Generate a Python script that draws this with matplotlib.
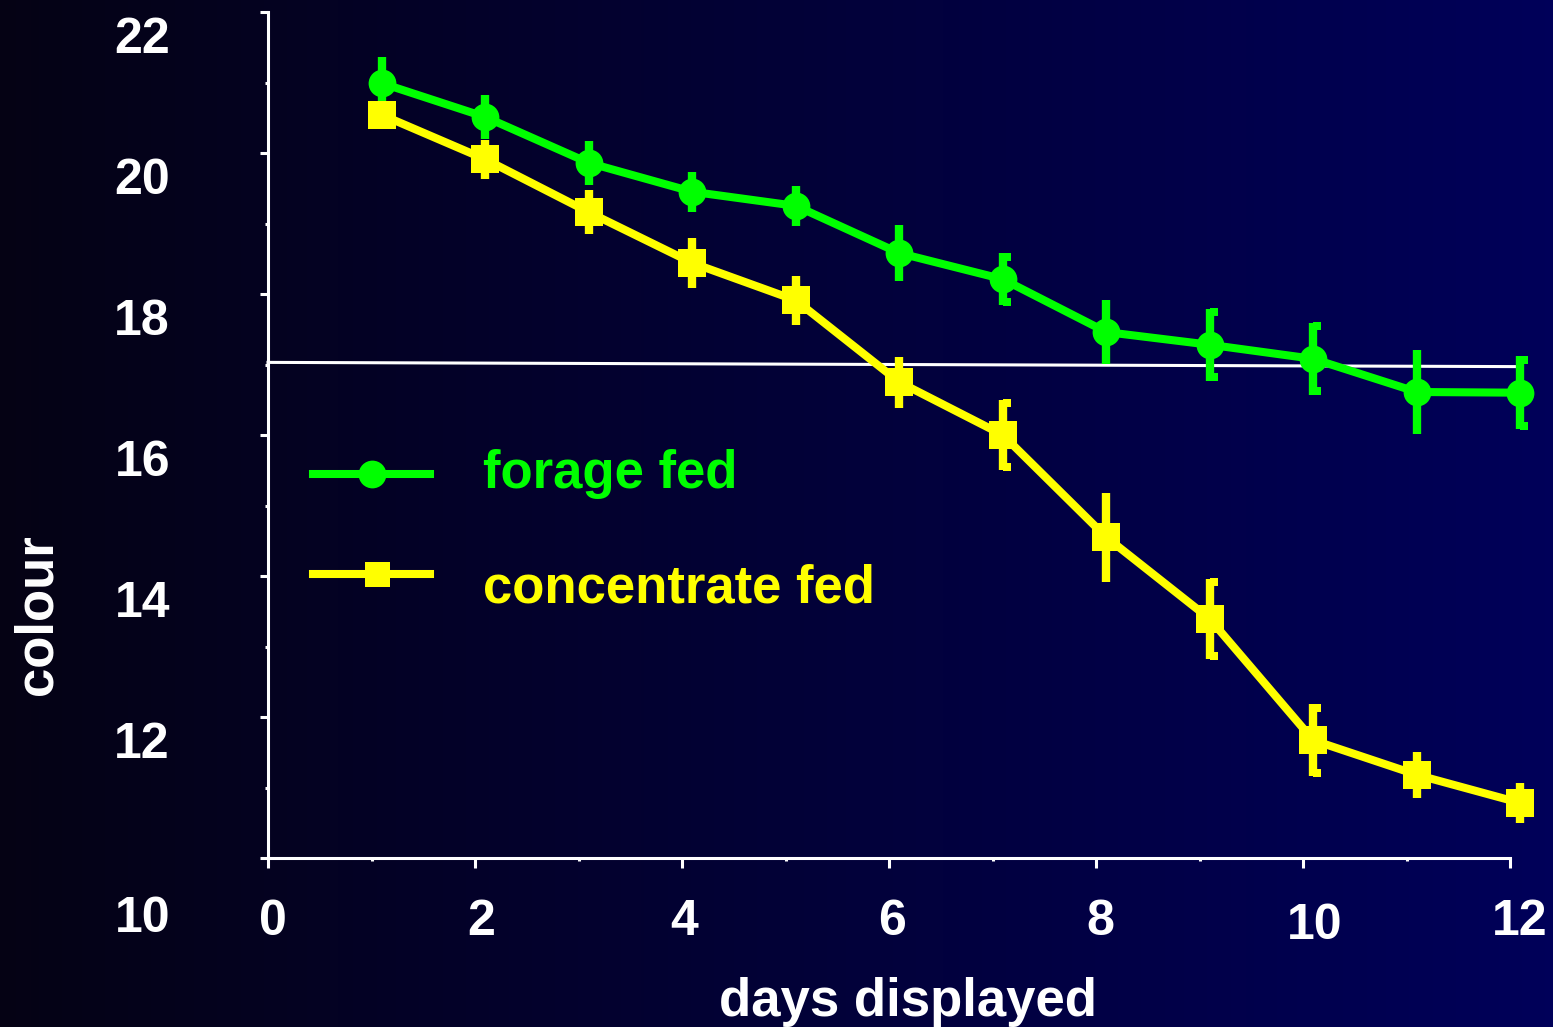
import numpy as np
import matplotlib
matplotlib.use("Agg")
import matplotlib.pyplot as plt
from matplotlib.path import Path
from matplotlib.transforms import ScaledTranslation

plt.rcParams['font.family'] = ['Liberation Sans', 'DejaVu Sans']
plt.rcParams['font.weight'] = 'bold'

# data
days = np.arange(1, 13)
forage = [20.99, 20.51, 19.86, 19.45, 19.25, 18.58, 18.21, 17.46, 17.28, 17.08, 16.61, 16.60]
forage_err = [0.37, 0.31, 0.31, 0.28, 0.28, 0.40, 0.37, 0.45, 0.51, 0.51, 0.60, 0.52]
concentrate = [20.54, 19.91, 19.16, 18.44, 17.91, 16.75, 16.00, 14.55, 13.39, 11.67, 11.18, 10.78]
concentrate_err = [0.20, 0.28, 0.31, 0.35, 0.35, 0.36, 0.50, 0.63, 0.57, 0.51, 0.33, 0.28]
ref_line_x = [0, 12.08]
ref_line_y = [17.03, 16.97]
x_ticks = [0, 2, 4, 6, 8, 10, 12]
y_ticks = [10, 12, 14, 16, 18, 20, 22]

GREEN = '#00ff00'
YELLOW = '#ffff00'
X_SHIFT = 0.1  # points sit a little right of the day ticks

fig = plt.figure(figsize=(15.53, 10.27), dpi=100)

# background: black on the left fading to navy on the right
bg = fig.add_axes([0, 0, 1, 1])
t = np.linspace(0, 1, 400)
left = np.array([0.02, 0.01, 0.08])
right = np.array([0.0, 0.0, 0.35])
grad = (left[None, :] * (1 - t[:, None]) + right[None, :] * t[:, None])[None, :, :]
bg.imshow(grad, aspect='auto', extent=[0, 1, 0, 1])
bg.axis('off')

ax = fig.add_axes([268 / 1553, 169 / 1027, 1242 / 1553, 846 / 1027])
ax.set_facecolor('none')
ax.set_xlim(0, 12)
ax.set_ylim(10, 22)

for side in ['top', 'right']:
    ax.spines[side].set_visible(False)
for side in ['left', 'bottom']:
    ax.spines[side].set_color('white')
    ax.spines[side].set_linewidth(2.2)

ax.set_xticks(x_ticks)
ax.set_xticks(days[::2], minor=True)
ax.set_xticklabels([])
ax.set_yticks(y_ticks)
ax.set_yticks([11, 13, 15, 17, 19, 21], minor=True)
ax.set_yticklabels([])
ax.tick_params(axis='both', which='both', color='white', width=2.2, direction='out')
ax.tick_params(axis='x', which='major', length=7.5)
ax.tick_params(axis='x', which='minor', length=2.5)
ax.tick_params(axis='y', which='major', length=6)
ax.tick_params(axis='y', which='minor', length=2.5)

# tick labels placed by hand, the original has them slightly off their ticks
for v in y_ticks:
    drop = 61 if v == 10 else 28
    off = ScaledTranslation(0, -drop / 100, fig.dpi_scale_trans)
    ax.text(-0.079, v, str(v), ha='right', va='center', fontsize=36, color='white',
            fontweight='bold', transform=ax.get_yaxis_transform() + off)

x_nudge = [5, 6, 2, 3, 4, 12, 10]
for v, dx in zip(x_ticks, x_nudge):
    drop = 68 if v == 10 else 64
    off = ScaledTranslation(dx / 100, -drop / 100, fig.dpi_scale_trans)
    ax.text(v, 0, str(v), ha='center', va='center', fontsize=36, color='white',
            fontweight='bold', transform=ax.get_xaxis_transform() + off)

# reference line
ax.plot(ref_line_x, ref_line_y, color='white', lw=2.2, clip_on=False, zorder=2)

xs = days + X_SHIFT
# little one-sided cap: a block sticking out to the right of the bar end
half_cap = Path([(0, -0.5), (1, -0.5), (1, 0.5), (0, 0.5), (0, -0.5)],
                [Path.MOVETO, Path.LINETO, Path.LINETO, Path.LINETO, Path.CLOSEPOLY])


def draw_series(y, err, color, marker, caps):
    y = np.array(y)
    err = np.array(err)
    ax.errorbar(xs, y, yerr=err, color=color, marker=marker, ms=20, mew=0,
                lw=5.8, elinewidth=6, capsize=0, clip_on=False, zorder=3)
    idx = np.array(caps) - 1
    for sign in (1, -1):
        ax.plot(xs[idx], y[idx] + sign * (err[idx] - 0.05), ls='none', marker=half_cap,
                ms=12, mew=0, color=color, clip_on=False, zorder=3)


draw_series(forage, forage_err, GREEN, 'o', [7, 9, 10, 12])
draw_series(concentrate, concentrate_err, YELLOW, 's', [7, 9, 10])

# legend drawn by hand
leg_x = [0.0362, 0.1304]
ax.plot(leg_x, [0.4539, 0.4539], color=GREEN, lw=5.8, transform=ax.transAxes, clip_on=False)
ax.plot([0.0837], [0.4539], marker='o', ms=20, mew=0, color=GREEN, transform=ax.transAxes)
ax.text(0.1731, 0.4374, 'forage fed', color=GREEN, fontsize=38, fontweight='bold',
        ha='left', va='baseline', transform=ax.transAxes)
ax.plot(leg_x, [0.3357, 0.3357], color=YELLOW, lw=5.8, transform=ax.transAxes, clip_on=False)
ax.plot([0.0878], [0.3357], marker='s', ms=18, mew=0, color=YELLOW, transform=ax.transAxes)
ax.text(0.1731, 0.3026, 'concentrate fed', color=YELLOW, fontsize=38, fontweight='bold',
        ha='left', va='baseline', transform=ax.transAxes)

fig.text(908 / 1553, 0.011, 'days displayed', color='white', fontsize=38,
         fontweight='bold', ha='center', va='baseline')
fig.text(38 / 1553, 1 - 615 / 1027, 'colour', color='white', fontsize=38,
         fontweight='bold', ha='center', va='center', rotation=90)

fig.savefig('out.png', dpi=100)
